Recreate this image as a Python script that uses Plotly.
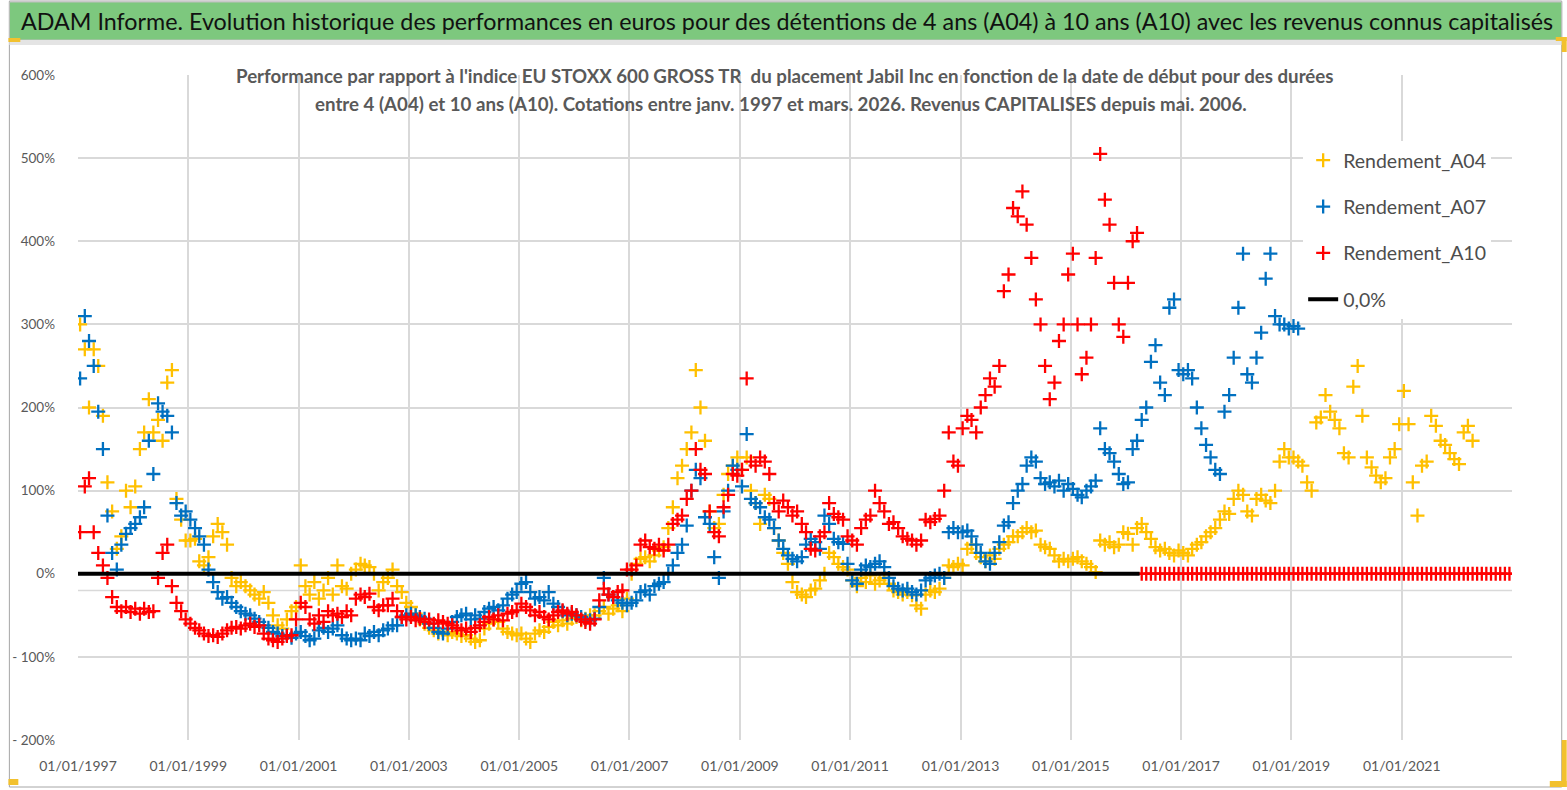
import pandas as pd
import plotly.graph_objects as go

# ---------------- data (values in %) ----------------
A04 = [
    300, 270, 200, 270, 250, 190, 110, 75, 30, 45, 100, 80,        # 1997
    105, 150, 170, 210, 170, 185, 160, 230, 245, 90, 65, 40,       # 1998
    40, 42, 15, 10, 20, 45, 60, 50, 35, -5, -15, -10,              # 1999
    -15, -20, -25, -30, -22, -35, -50, -62, -66, -55, -45, -40,    # 2000
    10, -15, -25, -10, -30, -20, -5, -25, 10, -15, -18, 0,         # 2001
    5, 12, 10, 8, 0, -20, -10, -5, 5, -15, -22, -35,               # 2002
    -40, -48, -55, -60, -65, -68, -72, -70, -74, -70, -72, -75,    # 2003
    -74, -78, -82, -80, -66, -60, -55, -58, -66, -70, -72, -74,    # 2004
    -72, -78, -82, -72, -68, -70, -64, -58, -62, -56, -60, -54,    # 2005
    -52, -56, -54, -50, -50, -45, -40, -48, -42, -38, -45, -30,    # 2006
    0, 12, 18, 20, 15, 22, 28, 32, 55, 80, 115, 130,               # 2007
    150, 170, 245, 200, 160, 75, 55, 60, 95, 120, 130, 140,        # 2008
    125, 140, 100, 85, 60, 95, 90, 55, 40, 25, 12, -10,            # 2009
    -22, -25, -28, -20, -18, -8, 0, 25, 20, 12, 8, 5,              # 2010
    -8, -15, -5, -10, -2, -12, -8, -5, -12, -20, -22, -25,         # 2011
    -22, -26, -38, -42, -25, -20, -22, -18, -5, 10, 8, 12,         # 2012
    10, 30, 35, 25, 20, 15, 22, 18, 30, 35, 38, 45,                # 2013
    45, 50, 55, 50, 52, 35, 32, 30, 22, 15, 18, 15,                # 2014
    18, 20, 15, 12, 8, 2, 40, 35, 38, 32, 35, 50,                  # 2015
    48, 35, 55, 60, 50, 42, 32, 28, 30, 25, 22, 28,                # 2016
    25, 22, 30, 35, 38, 45, 50, 55, 65, 75, 72, 90,                # 2017
    100, 95, 75, 70, 90, 95, 88, 85, 100, 135, 150, 140,           # 2018
    140, 135, 130, 110, 100, 182, 188, 215, 195, 185, 175, 145,    # 2019
    140, 225, 250, 190, 140, 128, 118, 110, 115, 140, 150, 180,    # 2020
    220, 180, 110, 70, 130, 135, 190, 178, 160, 155, 145, 138,     # 2021
    132, 170, 178, 160,                                            # 2022
]

A07 = [
    235, 310, 280, 250, 195, 150, 70, 25, 5, 35, 48, 55,           # 1997
    60, 68, 80, 160, 120, 205, 195, 190, 170, 85, 70, 75,          # 1998
    65, 55, 45, 35, 5, -10, -22, -30, -28, -35, -40, -45,          # 1999
    -48, -50, -54, -58, -62, -65, -70, -72, -75, -74, -77, -72,    # 2000
    -70, -75, -80, -78, -68, -65, -70, -66, -62, -74, -78, -80,    # 2001
    -78, -80, -72, -75, -70, -74, -68, -66, -62, -62, -52, -50,    # 2002
    -48, -50, -52, -54, -60, -65, -70, -72, -66, -58, -52, -50,    # 2003
    -48, -55, -50, -54, -46, -42, -40, -44, -38, -30, -25, -22,    # 2004
    -12, -10, -22, -30, -28, -32, -22, -36, -40, -45, -50, -48,    # 2005
    -50, -52, -55, -56, -54, -40, -5, -25, -28, -32, -35, -38,     # 2006
    -35, -32, -22, -20, -25, -15, -12, -10, 0, 10, 25, 35,         # 2007
    58, 100, 125, 115, 68, 60, 20, -5, 75, 100, 130, 125,          # 2008
    105, 168, 90, 85, 80, 68, 65, 55, 40, 30, 22, 18,              # 2009
    15, 20, 35, 42, 38, 30, 70, 60, 42, 38, 36, 12,                # 2010
    -8, -12, 5, 10, 8, 12, 15, 8, -5, -15, -18, -20,               # 2011
    -18, -22, -25, -20, -8, -5, -2, 0, -5, 50, 55, 50,             # 2012
    50, 52, 45, 35, 25, 15, 12, 25, 38, 58, 62, 85,                # 2013
    100, 108, 130, 140, 135, 115, 108, 110, 105, 112, 100, 108,    # 2014
    102, 95, 92, 100, 105, 112, 175, 150, 145, 135, 120, 108,      # 2015
    110, 150, 160, 185, 200, 255, 275, 230, 215, 320, 330, 245,    # 2016
    240, 245, 235, 200, 175, 155, 140, 125, 120, 195, 215, 260,    # 2017
    320, 385, 240, 230, 260, 290, 355, 385, 310, 300, 300, 295,    # 2018
    298, 295,                                                      # 2019
]

A10 = [
    50, 105, 115, 50, 25, 10, -5, -28, -40, -45, -40, -46,         # 1997
    -42, -48, -42, -46, -45, -5, 25, 35, -15, -35, -45, -55,       # 1998
    -60, -65, -68, -72, -75, -74, -76, -72, -68, -65, -64, -66,    # 1999
    -62, -60, -64, -62, -72, -78, -80, -82, -78, -75, -74, -55,    # 2000
    -35, -40, -55, -60, -50, -58, -45, -50, -48, -52, -45, -50,    # 2001
    -30, -25, -28, -24, -40, -44, -38, -38, -30, -45, -52, -55,    # 2002
    -52, -56, -54, -58, -55, -60, -56, -58, -60, -62, -65, -68,    # 2003
    -66, -70, -65, -62, -58, -52, -55, -50, -56, -48, -46, -44,    # 2004
    -36, -40, -44, -50, -46, -52, -55, -50, -46, -44, -48, -46,    # 2005
    -50, -55, -58, -60, -55, -32, -18, -25, -28, -22, -20, 5,      # 2006
    5, 10, 35, 40, 32, 30, 35, 28, 35, 60, 65, 70,                 # 2007
    90, 100, 150, 125, 120, 75, 50, 45, 80, 95, 120, 118,          # 2008
    125, 235, 135, 130, 140, 135, 120, 85, 75, 88, 80, 70,         # 2009
    75, 60, 50, 30, 28, 45, 50, 85, 72, 68, 65, 45,                # 2010
    40, 35, 55, 65, 70, 100, 85, 75, 60, 62, 55, 45,               # 2011
    42, 40, 35, 40, 65, 62, 66, 70, 100, 170, 135, 130,            # 2012
    175, 190, 185, 170, 200, 215, 235, 225, 250, 340, 360, 440,    # 2013
    430, 460, 420, 380, 330, 300, 250, 210, 230, 280, 300, 360,    # 2014
    385, 300, 240, 260, 300, 380, 505, 450, 420, 350, 300, 285,    # 2015
    350, 400, 410, 0, 0, 0, 0, 0, 0, 0, 0, 0,                      # 2016
    0, 0, 0, 0, 0, 0, 0, 0, 0, 0, 0, 0,                            # 2017
    0, 0, 0, 0, 0, 0, 0, 0, 0, 0, 0, 0,                            # 2018
    0, 0, 0, 0, 0, 0, 0, 0, 0, 0, 0, 0,                            # 2019
    0, 0, 0, 0, 0, 0, 0, 0, 0, 0, 0, 0,                            # 2020
    0, 0, 0, 0, 0, 0, 0, 0, 0, 0, 0, 0,                            # 2021
    0, 0, 0, 0, 0, 0, 0, 0, 0, 0, 0, 0,                            # 2022
]

ZERO_DATES = ["1997-01-01", "2016-04-01"]
ZERO_VALUES = [0, 0]

START = "1997-01-01"
X_TICK_DATES = ["1997-01-01", "1999-01-01", "2001-01-01", "2003-01-01", "2005-01-01",
                "2007-01-01", "2009-01-01", "2011-01-01", "2013-01-01", "2015-01-01",
                "2017-01-01", "2019-01-01", "2021-01-01"]
X_TICK_TEXT = ["01/01/1997", "01/01/1999", "01/01/2001", "01/01/2003", "01/01/2005",
               "01/01/2007", "01/01/2009", "01/01/2011", "01/01/2013", "01/01/2015",
               "01/01/2017", "01/01/2019", "01/01/2021"]
Y_TICK_VALS = [-200, -100, 0, 100, 200, 300, 400, 500, 600]
Y_TICK_TEXT = ["- 200%", "- 100%", "0%", "100%", "200%", "300%", "400%", "500%", "600%"]

TITLE = ("ADAM Informe. Evolution historique des performances en euros pour des détentions "
         "de 4 ans (A04) à 10 ans (A10) avec les revenus connus capitalisés")
SUB1 = ("Performance par rapport à l'indice EU STOXX 600 GROSS TR  du placement Jabil Inc "
        "en fonction de la date de début pour des durées")
SUB2 = ("entre 4 (A04) et 10 ans (A10). Cotations entre janv. 1997 et mars. 2026. "
        "Revenus CAPITALISES depuis mai. 2006.")


def month_dates(n):
    return pd.date_range(START, periods=n, freq="MS") + pd.Timedelta(days=14)


# ---------------- figure ----------------
W, H = 1567, 790
ML, MR, MT, MB = 70, 55, 75, 50
PW, PH = W - ML - MR, H - MT - MB


def px(x):
    return (x - ML) / PW


def py(y):
    return (H - MB - y) / PH


FONT = "Lato, Open Sans, sans-serif"
GRID = "#D9D9D9"
TXT = "#595959"
GOLDMARK = "#F2C12E"

fig = go.Figure()
series = [("Rendement_A04", A04, "#FFC000"),
          ("Rendement_A07", A07, "#0070C0"),
          ("Rendement_A10", A10, "#FF0000")]
for name, vals, col in series:
    fig.add_trace(go.Scatter(
        x=month_dates(len(vals)), y=vals, mode="markers", name=name,
        legendgroup=name,
        marker=dict(symbol="cross-thin", size=10, color=col,
                    line=dict(color=col, width=2.3)),
    ))
fig.add_trace(go.Scatter(
    x=ZERO_DATES, y=ZERO_VALUES, mode="lines", name="0,0%", legendgroup="zero",
    line=dict(color="black", width=4),
))


def prect(x0, x1, y0, y1, fill, line_color=None, layer="above"):
    return dict(type="rect", xref="paper", yref="paper",
                x0=px(x0), x1=px(x1), y0=py(y1), y1=py(y0),
                line=dict(color=line_color or "rgba(0,0,0,0)", width=1 if line_color else 0),
                fillcolor=fill, layer=layer)


shapes = [
    prect(1, 1562, 1, 787, "rgba(0,0,0,0)", "#A6A6A6", "below"),   # chart border
    prect(1, 1562, 2, 40, "#7DC87E", "#BFBFBF"),                    # title band
    prect(1, 1562, 40, 45, "#E4E4E4"),
    dict(type="line", xref="paper", yref="y", x0=0, x1=1, y0=-20, y1=-20,
         line=dict(color=GRID, width=1.5), layer="between"),
    prect(225, 1335, 60, 116, "white", None, "between"),            # subtitle box
    prect(0, 12, 38, 42, GOLDMARK),
    prect(1556, 1567, 37, 41, GOLDMARK),
    prect(1562, 1567, 37, 52, GOLDMARK),
    prect(1562, 1567, 740, 787, GOLDMARK),
    prect(1550, 1567, 781, 787, GOLDMARK),
    prect(0, 10, 779, 785, GOLDMARK),
]

annotations = [
    dict(text=TITLE, xref="paper", yref="paper", x=px(783), y=py(21), showarrow=False,
         xanchor="center", yanchor="middle", font=dict(family=FONT, size=23.3, color="#111111")),
    dict(text="<b>" + SUB1 + "</b>", xref="paper", yref="paper", x=px(781), y=py(76),
         showarrow=False, xanchor="center", yanchor="middle",
         font=dict(family=FONT, size=18.7, color=TXT)),
    dict(text="<b>" + SUB2 + "</b>", xref="paper", yref="paper", x=px(777), y=py(104),
         showarrow=False, xanchor="center", yanchor="middle",
         font=dict(family=FONT, size=18.7, color=TXT)),
]

fig.update_layout(
    width=W, height=H,
    margin=dict(l=ML, r=MR, t=MT, b=MB),
    paper_bgcolor="white", plot_bgcolor="white",
    font=dict(family=FONT, color=TXT),
    shapes=shapes, annotations=annotations,
    showlegend=True,
    legend=dict(x=px(1302), y=py(141), xanchor="left", yanchor="top",
                bgcolor="white", borderwidth=0, tracegroupgap=18,
                font=dict(family=FONT, size=19.5, color="#4D4D4D"), itemwidth=30),
    xaxis=dict(type="date", range=["1997-01-01", "2023-01-01"],
               tickmode="array", tickvals=X_TICK_DATES, ticktext=X_TICK_TEXT,
               showgrid=True, gridcolor=GRID, gridwidth=1.5, zeroline=False, showline=False,
               ticks="", tickfont=dict(family=FONT, size=14, color=TXT),
               ticklabelstandoff=16),
    yaxis=dict(range=[-200, 600], tickmode="array", tickvals=Y_TICK_VALS, ticktext=Y_TICK_TEXT,
               showgrid=True, gridcolor=GRID, gridwidth=1.5, zeroline=False, showline=False,
               ticks="", tickfont=dict(family=FONT, size=13.5, color=TXT),
               ticklabelstandoff=22),
)

fig.write_html(
    "out.html",
    config={"displayModeBar": False},
    post_script="document.body.style.margin='0';document.body.style.overflow='hidden';",
)
